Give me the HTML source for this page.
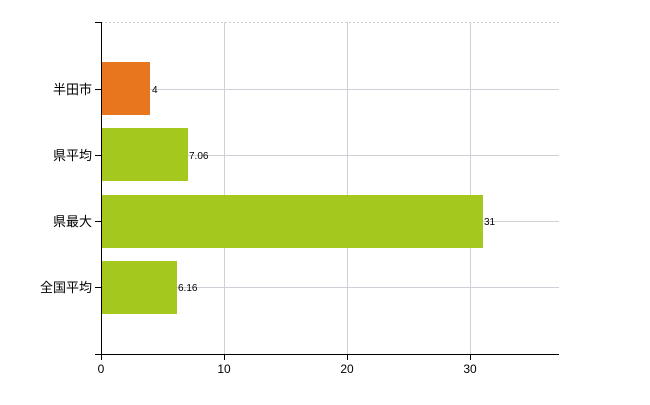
<!DOCTYPE html>
<html><head><meta charset="utf-8"><style>body{margin:0;background:#fff}</style></head>
<body>
<svg width="650" height="400" xmlns="http://www.w3.org/2000/svg" font-family="'Liberation Sans','Noto Sans CJK JP',sans-serif">
<g stroke="#d0d0d8" stroke-width="1">
<line x1="101" y1="22.5" x2="559" y2="22.5" stroke-dasharray="2,2"/>
<line x1="101" y1="89.5" x2="559" y2="89.5"/>
<line x1="101" y1="155.5" x2="559" y2="155.5"/>
<line x1="101" y1="221.5" x2="559" y2="221.5"/>
<line x1="101" y1="287.5" x2="559" y2="287.5"/>
<line x1="224.5" y1="22" x2="224.5" y2="354"/>
<line x1="347.5" y1="22" x2="347.5" y2="354"/>
<line x1="470.5" y1="22" x2="470.5" y2="354"/>
</g>
<rect x="101" y="62" width="49" height="53" fill="#e8761f"/>
<rect x="101" y="128" width="87" height="53" fill="#a5c81e"/>
<rect x="101" y="195" width="382" height="53" fill="#a5c81e"/>
<rect x="101" y="261" width="76" height="53" fill="#a5c81e"/>
<g stroke="#000" stroke-width="1">
<line x1="101.5" y1="22" x2="101.5" y2="354"/>
<line x1="95" y1="354.5" x2="559" y2="354.5"/>
<line x1="95" y1="22.5" x2="101" y2="22.5"/>
<line x1="95" y1="89.5" x2="101" y2="89.5"/>
<line x1="95" y1="155.5" x2="101" y2="155.5"/>
<line x1="95" y1="221.5" x2="101" y2="221.5"/>
<line x1="95" y1="287.5" x2="101" y2="287.5"/>
<line x1="101.5" y1="354" x2="101.5" y2="360"/>
<line x1="224.5" y1="354" x2="224.5" y2="360"/>
<line x1="347.5" y1="354" x2="347.5" y2="360"/>
<line x1="470.5" y1="354" x2="470.5" y2="360"/>
</g>
<g font-size="13" text-anchor="end" fill="#000">
<text x="92" y="94">半田市</text>
<text x="92" y="160">県平均</text>
<text x="92" y="226">県最大</text>
<text x="92" y="292">全国平均</text>
</g>
<g font-size="12" text-anchor="middle" fill="#000">
<text x="101" y="373">0</text>
<text x="224" y="373">10</text>
<text x="347" y="373">20</text>
<text x="470" y="373">30</text>
</g>
<g font-size="10" fill="#000">
<text x="152" y="93">4</text>
<text x="189" y="159">7.06</text>
<text x="484" y="225">31</text>
<text x="178" y="291">6.16</text>
</g>
</svg>
</body></html>
